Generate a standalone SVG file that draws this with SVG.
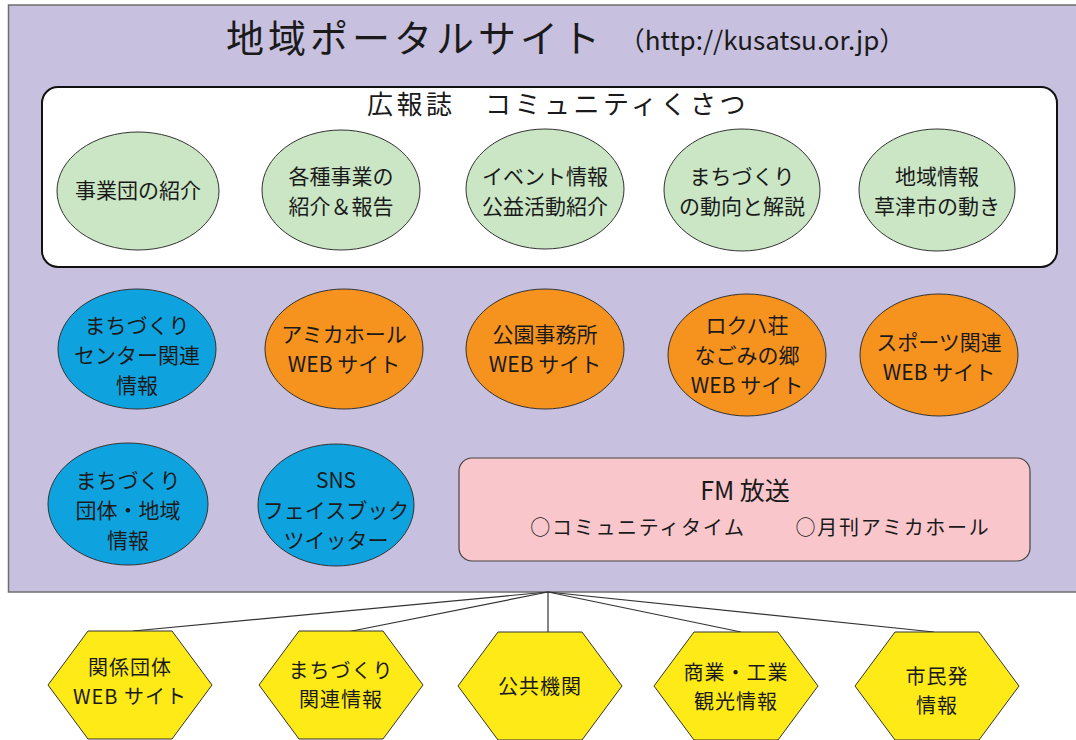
<svg xmlns="http://www.w3.org/2000/svg" width="1076" height="740" viewBox="0 0 1076 740">
<style>
text{font-family:"Noto Sans CJK JP","Noto Sans",sans-serif;fill:#1a1a1a;text-anchor:middle}
.t{font-size:21px}
.h{font-size:20px;letter-spacing:1px}
.g{fill:#cae6c5;stroke:#333;stroke-width:1}
.b{fill:#0ea3df;stroke:#333;stroke-width:1}
.o{fill:#f6921e;stroke:#333;stroke-width:1}
.y{fill:#fdea17;stroke:#333;stroke-width:1}
.c line{stroke:#333;stroke-width:1.2}
</style>
<rect x="0" y="0" width="1076" height="740" fill="#ffffff"/>
<g id="portal">
<rect x="8.5" y="5" width="1070" height="587" fill="#c7c0de" stroke="#6e6e6e" stroke-width="1.5"/>
<text x="415" y="52" style="font-size:38px;letter-spacing:4px">地域ポータルサイト</text>
<text x="762" y="50" style="font-size:26px">（http://kusatsu.or.jp）</text>
</g>
<g id="koho">
<rect x="42" y="87" width="1015" height="180" rx="16" ry="16" fill="#ffffff" stroke="#111" stroke-width="2"/>
<text x="558" y="114" style="font-size:26px;letter-spacing:3.5px">広報誌　コミュニティくさつ</text>
</g>
<g id="n1"><ellipse class="g" cx="138" cy="191" rx="81" ry="59"/><text class="t" x="138" y="198">事業団の紹介</text></g>
<g id="n2"><ellipse class="g" cx="341" cy="190" rx="79" ry="60"/><text class="t" x="341" y="184">各種事業の</text><text class="t" x="341" y="214">紹介＆報告</text></g>
<g id="n3"><ellipse class="g" cx="545" cy="189" rx="79" ry="60"/><text class="t" x="545" y="184">イベント情報</text><text class="t" x="545" y="214">公益活動紹介</text></g>
<g id="n4"><ellipse class="g" cx="742" cy="190" rx="78" ry="61"/><text class="t" x="742" y="184">まちづくり</text><text class="t" x="742" y="214">の動向と解説</text></g>
<g id="n5"><ellipse class="g" cx="937" cy="190" rx="78" ry="61"/><text class="t" x="937" y="184">地域情報</text><text class="t" x="937" y="214">草津市の動き</text></g>
<g id="n6"><ellipse class="b" cx="137" cy="349" rx="79" ry="60"/><text class="t" x="137" y="333">まちづくり</text><text class="t" x="137" y="363">センター関連</text><text class="t" x="137" y="393">情報</text></g>
<g id="n7"><ellipse class="o" cx="344" cy="349" rx="79" ry="60"/><text class="t" x="344" y="342">アミカホール</text><text class="t" x="344" y="372">WEB サイト</text></g>
<g id="n8"><ellipse class="o" cx="545" cy="349" rx="79" ry="60"/><text class="t" x="545" y="342">公園事務所</text><text class="t" x="545" y="372">WEB サイト</text></g>
<g id="n9"><ellipse class="o" cx="747" cy="355" rx="79" ry="61"/><text class="t" x="747" y="333">ロクハ荘</text><text class="t" x="747" y="363">なごみの郷</text><text class="t" x="747" y="393">WEB サイト</text></g>
<g id="n10"><ellipse class="o" cx="939" cy="355" rx="79" ry="61"/><text class="t" x="939" y="350">スポーツ関連</text><text class="t" x="939" y="380">WEB サイト</text></g>
<g id="n11"><ellipse class="b" cx="128" cy="504" rx="80" ry="61"/><text class="t" x="128" y="488">まちづくり</text><text class="t" x="128" y="518">団体・地域</text><text class="t" x="128" y="548">情報</text></g>
<g id="n12"><ellipse class="b" cx="336" cy="505" rx="78" ry="61"/><text class="t" x="336" y="488">SNS</text><text class="t" x="336" y="518">フェイスブック</text><text class="t" x="336" y="548">ツイッター</text></g>
<g id="fm">
<rect x="459" y="458" width="571" height="103" rx="13" ry="13" fill="#f9c7cb" stroke="#444" stroke-width="1.2"/>
<text x="745" y="500" style="font-size:25px">FM 放送</text>
<text x="638" y="535" style="font-size:20px;letter-spacing:1.7px">○コミュニティタイム</text>
<text x="893" y="535" style="font-size:20px;letter-spacing:1.7px">○月刊アミカホール</text>
</g>
<g class="c" id="connectors">
<line x1="548" y1="592" x2="133" y2="631"/>
<line x1="548" y1="592" x2="347" y2="632"/>
<line x1="548" y1="592" x2="548" y2="632"/>
<line x1="548" y1="592" x2="741" y2="632"/>
<line x1="548" y1="592" x2="934" y2="632"/>
</g>
<g id="h1"><polygon class="y" points="48,685 88,631 172,631 212,685 172,739 88,739"/><text class="h" x="130" y="675">関係団体</text><text class="h" x="130" y="704">WEB サイト</text></g>
<g id="h2"><polygon class="y" points="259,685 299,631 383,631 423,685 383,739 299,739"/><text class="h" x="341" y="678">まちづくり</text><text class="h" x="341" y="707">関連情報</text></g>
<g id="h3"><polygon class="y" points="458,686 498,632 582,632 622,686 582,740 498,740"/><text class="h" x="540" y="694">公共機関</text></g>
<g id="h4"><polygon class="y" points="654,686 694,632 778,632 818,686 778,740 694,740"/><text class="h" x="736" y="680">商業・工業</text><text class="h" x="736" y="709">観光情報</text></g>
<g id="h5"><polygon class="y" points="855,686 895,632 979,632 1019,686 979,740 895,740"/><text class="h" x="937" y="684">市民発</text><text class="h" x="937" y="713">情報</text></g>
</svg>
